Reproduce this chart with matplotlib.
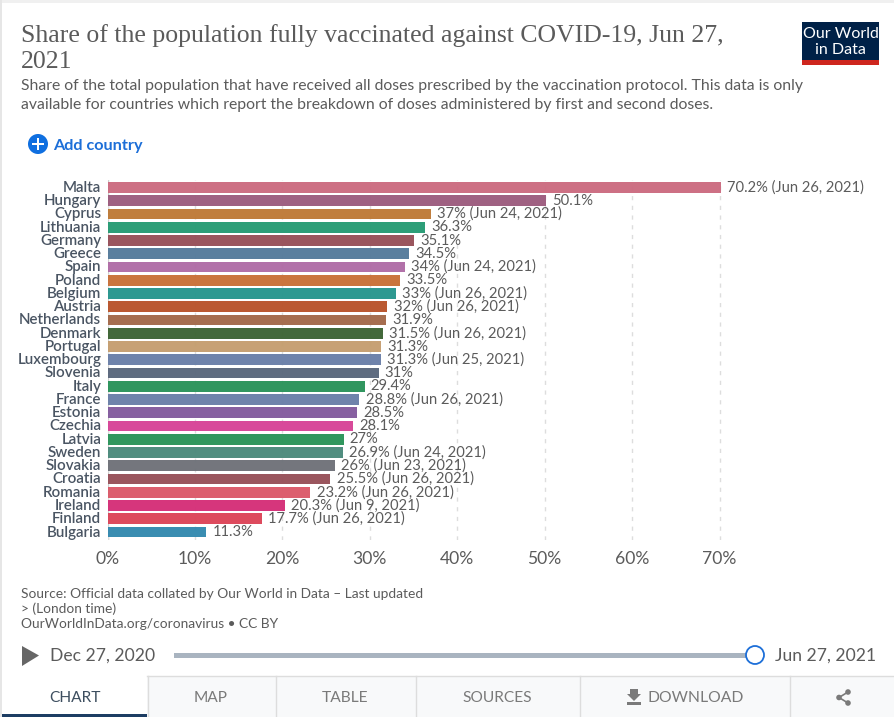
# Share of population fully vaccinated, Our World in Data bar chart
import matplotlib
matplotlib.use("Agg")
import matplotlib.pyplot as plt
from matplotlib.patches import Rectangle, Circle, Polygon
from matplotlib.transforms import ScaledTranslation

plt.rcParams['font.family'] = ['Lato', 'DejaVu Sans']

countries = ["Malta", "Hungary", "Cyprus", "Lithuania", "Germany", "Greece", "Spain", "Poland",
             "Belgium", "Austria", "Netherlands", "Denmark", "Portugal", "Luxembourg", "Slovenia",
             "Italy", "France", "Estonia", "Czechia", "Latvia", "Sweden", "Slovakia", "Croatia",
             "Romania", "Ireland", "Finland", "Bulgaria"]
values = [70.2, 50.1, 37, 36.3, 35.1, 34.5, 34, 33.5, 33, 32, 31.9, 31.5, 31.3, 31.3, 31,
          29.4, 28.8, 28.5, 28.1, 27, 26.9, 26, 25.5, 23.2, 20.3, 17.7, 11.3]
dates = ["Jun 26, 2021", "", "Jun 24, 2021", "", "", "", "Jun 24, 2021", "",
         "Jun 26, 2021", "Jun 26, 2021", "", "Jun 26, 2021", "", "Jun 25, 2021", "",
         "", "Jun 26, 2021", "", "", "", "Jun 24, 2021", "Jun 23, 2021", "Jun 26, 2021",
         "Jun 26, 2021", "Jun 9, 2021", "Jun 26, 2021", ""]
colors = ["#CC6B80", "#9C5C7E", "#BE7A37", "#269B74", "#975059", "#557B9B", "#B06CA6", "#C97038",
          "#27968E", "#B9542B", "#A3694A", "#3D6434", "#C59E70", "#6A7FA8", "#5A677C",
          "#2A935A", "#6A7FA8", "#835B9E", "#D74497", "#2A9459", "#4B8A7C", "#6F7279", "#975059",
          "#DB5A69", "#D52F78", "#DC4458", "#3389AF"]
x_ticks = [0, 10, 20, 30, 40, 50, 60, 70]

W, H = 894, 717
TEXT = "#5b5b5b"

fig = plt.figure(figsize=(W / 100, H / 100), dpi=100, facecolor="white")

# page furniture is laid out in pixels on a full-figure axes
ui = fig.add_axes([0, 0, 1, 1], zorder=0)
ui.set_xlim(0, W)
ui.set_ylim(H, 0)
ui.axis("off")


def px(size):
    return size * 0.72


ui.add_patch(Rectangle((0, 0), W, 3, color="#f0f0f0", lw=0))
ui.add_patch(Rectangle((0, 0), 1.5, H, color="#e6e6e6", lw=0))

title_font = dict(family="Liberation Serif", color="#5b5b5b", fontsize=px(25.8), va="center")
ui.text(21, 36, "Share of the population fully vaccinated against COVID-19, Jun 27,", **title_font)
ui.text(21, 62, "2021", **title_font)
ui.text(21, 86, "Share of the total population that have received all doses prescribed by the "
        "vaccination protocol. This data is only", color=TEXT, fontsize=px(15.7), va="center")
ui.text(21, 105, "available for countries which report the breakdown of doses administered by "
        "first and second doses.", color=TEXT, fontsize=px(15.7), va="center")

# logo
ui.add_patch(Rectangle((802, 22), 77, 38, color="#002147", lw=0))
ui.add_patch(Rectangle((802, 60), 77, 5, color="#CE261E", lw=0))
ui.text(840.5, 34, "Our World", color="white", fontsize=px(16), ha="center", va="center")
ui.text(840.5, 50, "in Data", color="white", fontsize=px(16), ha="center", va="center")

# add country button
ui.add_patch(Circle((38, 144), 10, color="#0F6FE0", lw=0))
ui.add_patch(Rectangle((32, 142.8), 12, 2.6, color="white", lw=0))
ui.add_patch(Rectangle((36.7, 138), 2.6, 12, color="white", lw=0))
ui.text(53, 146, "Add country", color="#1D6FD8", fontsize=px(16.3), fontweight="bold", va="center")

# footer
ui.text(21, 594, "Source: Official data collated by Our World in Data \u2013 Last updated",
        color=TEXT, fontsize=px(13.7), va="center")
ui.text(21, 609, "> (London time)", color=TEXT, fontsize=px(13.7), va="center")
ui.text(21, 624, "OurWorldInData.org/coronavirus \u2022 CC BY", color=TEXT, fontsize=px(13.8), va="center")

# timeline
ui.add_patch(Polygon([(22, 646), (39, 655.5), (22, 666)], closed=True, color="#666666", lw=0))
ui.text(50, 656, "Dec 27, 2020", color=TEXT, fontsize=px(17.5), va="center")
ui.add_patch(Rectangle((174, 652.5), 576, 5.5, color="#A9B4C0", lw=0))
ui.add_patch(Circle((755, 655), 9, facecolor="white", edgecolor="#1D6FD8", lw=1.3))
ui.text(775, 656, "Jun 27, 2021", color=TEXT, fontsize=px(17.5), va="center")

# tabs
ui.add_patch(Rectangle((147, 676), W - 147, 41, color="#f8f9fa", lw=0))
ui.plot([147, W], [675.5, 675.5], color="#dddddd", lw=1)
for tab_x in [147.5, 275.5, 415.5, 579.5, 789.5]:
    ui.plot([tab_x, tab_x], [676, H], color="#dddddd", lw=1)
ui.add_patch(Rectangle((2, 713.5), 145, 3, color="#1D3D63", lw=0))
ui.text(74.5, 698, "CHART", color="#3d4e5f", fontsize=px(15.5), ha="center", va="center")
ui.text(211, 698, "MAP", color="#7a7a7a", fontsize=px(15.5), ha="center", va="center")
ui.text(345.5, 698, "TABLE", color="#7a7a7a", fontsize=px(15.5), ha="center", va="center")
ui.text(497.5, 698, "SOURCES", color="#7a7a7a", fontsize=px(15.5), ha="center", va="center")
ui.text(695.5, 698, "DOWNLOAD", color="#7a7a7a", fontsize=px(15.7), ha="center", va="center")

# download icon
ui.add_patch(Polygon([(630, 689), (638, 689), (638, 694), (641, 694), (634, 701), (627, 694), (630, 694)],
                     closed=True, color="#7a7a7a", lw=0))
ui.add_patch(Rectangle((627, 701.5), 14, 3.5, color="#7a7a7a", lw=0))

# share icon
ui.plot([848, 839, 848], [692, 697.5, 703], color="#7a7a7a", lw=1.2)
for sx, sy in [(848, 692), (839, 697.5), (848, 703)]:
    ui.add_patch(Circle((sx, sy), 2.8, color="#7a7a7a", lw=0))

# chart: 0% sits at px 107.5 and 70% at px 719.5, first bar centre at px 187.5
left, right, top, bottom = 107.5, 722.0, 180.0, 540.0
ax = fig.add_axes([left / W, 1 - bottom / H, (right - left) / W, (bottom - top) / H], zorder=1)
ax.patch.set_alpha(0)
ax.set_xlim(0, (right - left) / (612 / 70))
ax.set_ylim(26.6, -0.566)
for spine in ax.spines.values():
    spine.set_visible(False)

ax.set_axisbelow(True)
ax.xaxis.grid(True, color="#dddddd", lw=1, linestyle=(0, (3, 4)))
ax.axvline(0, color="#cccccc", lw=1, zorder=0.5)

ypos = list(range(len(countries)))
ax.barh(ypos, values, height=0.82, color=colors, alpha=0.97, linewidth=0, zorder=2)

ax.set_xticks(x_ticks)
ax.set_xticklabels([f"{t}%" for t in x_ticks], color=TEXT, fontsize=px(17.5))
ax.set_yticks(ypos)
ax.set_yticklabels(countries, color="#4a5563", fontsize=px(15.1), fontweight="semibold")
ax.tick_params(axis="both", length=0)
ax.tick_params(axis="x", pad=8)
ax.tick_params(axis="y", pad=4.5)

# country names sit a little above the bar centres in the original
nudge = ScaledTranslation(0, 0.75 / 72, fig.dpi_scale_trans)
for lab in ax.get_yticklabels():
    lab.set_transform(lab.get_transform() + nudge)

for i, (v, d) in enumerate(zip(values, dates)):
    label = f"{v:g}%" + (f" ({d})" if d else "")
    ax.annotate(label, (v, i), xytext=(4.5, 0), textcoords="offset points", color=TEXT,
                fontsize=px(14.8), va="center", ha="left", annotation_clip=False, zorder=3)

fig.savefig("out.png", dpi=100)
